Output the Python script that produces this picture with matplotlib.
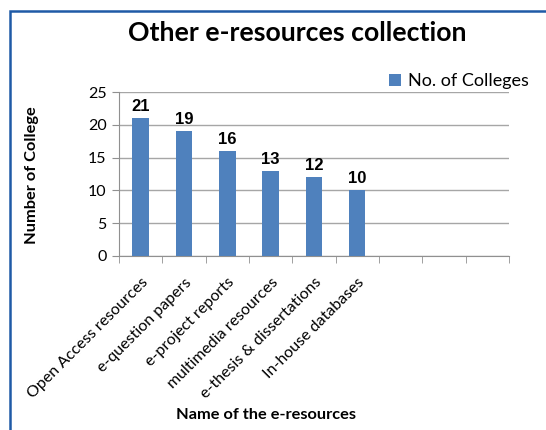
import numpy as np
import matplotlib as mpl
import matplotlib.pyplot as plt

categories = ['Open Access resources', 'e-question papers', 'e-project reports',
              'multimedia resources', 'e-thesis & dissertations', 'In-house databases']
colleges = [21, 19, 16, 13, 12, 10]
n_slots = 9  # chart keeps room for three unused categories on the right

plt.rcParams['font.family'] = ['Lato', 'DejaVu Sans']

fig = plt.figure(figsize=(5.46, 4.30), dpi=100)
ax = fig.add_axes([0.218, 0.405, 0.714, 0.381])

# blue frame around the chart area
fig.patches.append(mpl.patches.Rectangle((10 / 546, -0.05), 1.1, 1 - 11 / 430 + 0.05,
                                         transform=fig.transFigure, fill=False,
                                         edgecolor='#1f5aa6', linewidth=1.8))

x = np.arange(len(categories))
bars = ax.bar(x, colleges, width=0.38, color='#4f81bd', label='No. of Colleges', zorder=3)
for b, v in zip(bars, colleges):
    ax.text(b.get_x() + b.get_width() / 2, v + 0.6, str(v), ha='center', va='bottom',
            fontsize=12, fontweight='bold', family='Liberation Sans')

ax.set_xlim(-0.5, n_slots - 0.5)
ax.set_ylim(0, 25)
ax.set_yticks(range(0, 26, 5))
ax.yaxis.grid(True, color='#a6a6a6', linewidth=1, zorder=0)
ax.set_xticks(x)
ax.set_xticklabels(categories, rotation=45, ha='right', rotation_mode='anchor', fontsize=11.5)
ax.set_xticks(np.arange(-0.5, n_slots), minor=True)
ax.tick_params(axis='x', which='major', length=0, pad=14)
ax.tick_params(axis='x', which='minor', length=5, color='#909090')
ax.tick_params(axis='y', length=5, color='#909090', labelsize=11.5, pad=4)
for s in ['top', 'right']:
    ax.spines[s].set_visible(False)
for s in ['left', 'bottom']:
    ax.spines[s].set_color('#909090')

ax.set_ylabel('Number of College', fontsize=11.8, fontweight='bold')
ax.yaxis.set_label_coords(32 / 546, 1 - 175 / 430, transform=fig.transFigure)
ax.set_xlabel('Name of the e-resources', fontsize=11.8, fontweight='bold')
ax.xaxis.set_label_coords(266 / 546, 1 - 415 / 430, transform=fig.transFigure)
ax.xaxis.label.set_va('center')
ax.yaxis.label.set_va('center')
fig.text(297 / 546, 1 - 33 / 430, 'Other e-resources collection', ha='center', va='center',
         fontsize=19.2, fontweight='bold')

ax.legend(loc='center left', bbox_to_anchor=(373 / 546, 1 - 81 / 430), bbox_transform=fig.transFigure,
          frameon=False, handlelength=0.65, handleheight=0.65, handletextpad=0.4, fontsize=13)

fig.savefig('out.png', dpi=100)
